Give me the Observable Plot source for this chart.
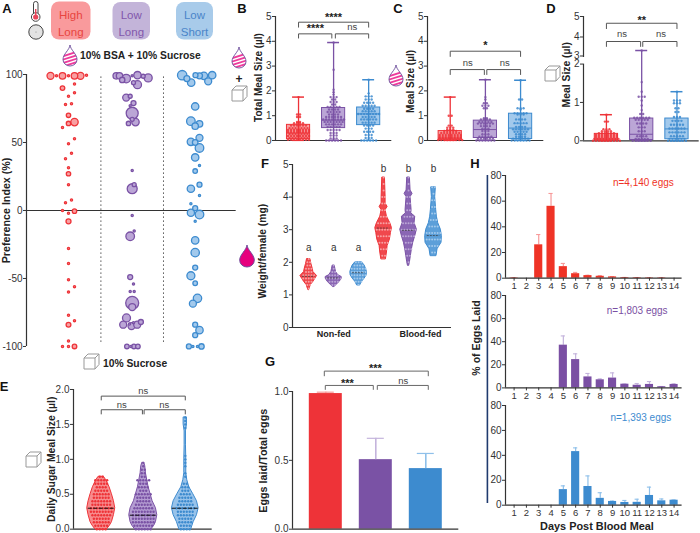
<!DOCTYPE html>
<html><head><meta charset="utf-8">
<script src="https://cdn.jsdelivr.net/npm/d3@7"></script>
<script src="https://cdn.jsdelivr.net/npm/@observablehq/plot@0.6"></script>
<style>
html,body{margin:0;padding:0;background:#fff}
#root{position:relative;width:700px;height:533px;overflow:hidden;font-family:"Liberation Sans",Arial,sans-serif}
#root svg{position:absolute;overflow:visible;background:transparent}
</style></head><body><div id="root"></div>
<script>
// ---------- palette per group ----------
const colors=["#ee3338","#7a52a5","#3d8bcf"];
const lights=["#f8a0a2","#bba6d6","#a2c9ec"];
const errs=["#f79a9a","#c4b4dc","#8fc0ea"];
const ink="#333";

// ---------- A: preference index, [offset, value, size] ----------
const prefHigh=[[-18,99,3.5],[-12,99,1.1],[-6,99,3.3],[0,99,1.1],[6,99,3.3],[12,99,3.5],[18,99.5,1.1],[-6,90,2.3],[6,93,1.1],[6,86.5,1.1],[0,84,1.1],[-3,78,1.1],[3,78.5,1.1],[0,70,2.2],[6,65,3.7],[0,64,2.2],[-6,61,1.1],[6,52.7,1.1],[0,49,1.1],[3,42,1.1],[-3,38,1.1],[0,31.4,1.1],[0,27,2.2],[0,19,1.1],[3,7.7,1.1],[-3,5.6,1.1],[-6,0,1.1],[0,-2,1.1],[6,-.5,2.2],[0,-8,2.5],[0,-28,1.1],[0,-39,1.1],[0,-51,1.1],[6,-56,1.1],[0,-60,1.1],[0,-77,1.1],[6,-81,1.1],[0,-84,2.4],[0,-96,1.1],[-6,-100,1.1],[0,-100,1.1],[6,-100,2.3]];
const prefLow=[[-16,99,3.2],[-12.7,99,3.2],[-6,97,4.3],[-10,96,2.7],[0,99,1.1],[5.3,99.5,3.7],[11,98.7,2],[16,97.5,4],[1.3,94,2],[5.3,92.5,4],[-6,83,3.5],[-2,84,2],[1.3,79,2.5],[-2,77,1.1],[0,71.5,6],[0,67,2],[3.3,65,3.7],[-3.7,64,2.2],[0,29.4,1.1],[0,16,5],[2,19,2],[0,-3.7,1.1],[-2,-19,4.3],[2,-15,1.1],[-2,-49,2.5],[1.3,-54,1.1],[-2,-59.5,1.1],[2,-59.5,1.1],[0,-68,6.5],[0,-71,3.5],[-5.7,-79,4],[-9,-84,3.5],[-.7,-85,3.5],[5,-84,3.5],[8.7,-82,2.5],[1.3,-82.5,1.1],[-2.7,-83.5,1.1],[-5.3,-100,2.3],[-1.3,-100,1.1],[1.7,-100,2.3],[5.7,-100,2.3]];
const prefShort=[[-13,99.5,4.7],[-8.3,97,3],[-4,94,3.7],[.3,99.5,2.5],[4.3,99,3],[8.7,99,3.7],[13,95,3.5],[17,99.5,3.7],[0,76.5,3.7],[-4.3,65.7,4.3],[4.3,63.7,3.3],[0,62,3.2],[4.3,53.4,3.5],[-4.3,50.5,3.7],[0,50,2.8],[4.3,46,4.3],[0,39,3.7],[4.3,33,1.1],[0,29,2.3],[4.3,19,2.5],[-4.3,16,3.7],[4.3,11,1.1],[-4.3,5,1.1],[0,1.7,2.5],[-4.3,-1.7,3.6],[4.3,-3,4.3],[0,-8,1.1],[0,-22,3.7],[0,-31,4.2],[0,-42,2.5],[-4.3,-48,4],[0,-53.5,2.3],[2.3,-64.6,4.2],[-2.3,-68.5,3.5],[0,-84,2.5],[4.3,-88,3.7],[0,-91.7,2.5],[-6.3,-100,2.5],[-2.3,-100,1.1],[2.3,-100,1.1],[6.3,-100,2.7]];
const prefCentres=[42,105.7,168.7];

// ---------- B, C, D: box stats [min,q1,median,q3,max] and strips [value,count] ----------
const totalStats=[[0,.05,.3,.63,1.75],[0,.5,.82,1.31,3.95],[0,.62,1.07,1.33,2.45]];
const totalRows=[
 [[1.75,1],[1.05,2],[.95,2],[.75,2],[.7,4],[.6,6],[.5,7],[.42,8],[.34,8],[.26,7],[.18,8],[.1,7],[.03,8]],
 [[3.95,1],[2.85,1],[2.05,1],[1.95,1],[1.85,1],[1.75,3],[1.65,2],[1.55,3],[1.45,2],[1.35,5],[1.25,4],[1.15,5],[1.05,4],[.95,6],[.85,8],[.75,7],[.65,6],[.55,5],[.42,5],[.3,3],[.2,3],[.08,3],[0,6]],
 [[2.45,1],[1.9,1],[1.78,3],[1.65,3],[1.52,4],[1.4,5],[1.28,4],[1.18,5],[1.07,8],[.95,5],[.85,6],[.72,5],[.6,4],[.48,3],[.35,4],[.22,3],[.1,3],[0,6]]];
const bsaStats=[[0,.03,.1,.38,1.75],[0,.1,.44,.8,2.45],[0,.06,.5,1.08,2.43]];
const bsaRows=[
 [[1.75,1],[1,2],[.6,2],[.52,3],[.45,3],[.38,5],[.3,7],[.22,8],[.15,8],[.08,8],[.02,9]],
 [[2.45,1],[1.75,1],[1.65,1],[1.5,2],[1.4,3],[1.3,2],[.9,2],[.85,4],[.75,5],[.68,6],[.58,4],[.48,3],[.38,3],[.25,3],[.15,5],[.07,6],[0,7]],
 [[2.43,1],[1.65,2],[1.3,3],[1.25,1],[1.1,5],[1.05,3],[.85,4],[.7,5],[.55,4],[.45,6],[.35,5],[.25,4],[.15,4],[.07,6],[0,7]]];
const sucStats=[[0,.01,.05,.18,.68],[0,.02,.17,.58,3.34],[0,.04,.31,.58,1.28]];
const sucRows=[
 [[.68,1],[.5,2],[.3,3],[.25,4],[.2,6],[.15,8],[.1,8],[.05,9],[0,10]],
 [[3.34,1],[1.53,1],[1.28,1],[1.15,3],[1.05,1],[.92,1],[.8,1],[.7,2],[.6,6],[.55,5],[.45,4],[.35,3],[.25,3],[.12,4],[.05,5],[0,7]],
 [[1.28,1],[1.05,3],[.98,3],[.85,2],[.75,2],[.62,3],[.52,4],[.42,5],[.32,6],[.22,6],[.12,5],[.05,6],[0,7]]];
const brokenDomain=[0,2,3,5];
const brokenUnits=[0,76.7,83.3,124.3];

// ---------- E: sugar meal violins [value,width] and strips ----------
const sugarShape=[
 [[0,18],[.05,26],[.1,32],[.2,38],[.3,42],[.4,38],[.5,32],[.6,25],[.7,15],[.75,8]],
 [[0,25],[.05,33],[.1,38],[.2,42],[.3,38],[.4,28],[.5,22],[.6,16],[.7,12],[.8,8],[.9,6],[.95,3]],
 [[0,18],[.1,25],[.2,35],[.3,40],[.4,35],[.5,24],[.6,12],[.7,6],[.8,3],[.9,3],[1,3],[1.2,2],[1.4,2],[1.5,5],[1.6,5]]];
const sugarRows=[
 [[.75,2],[.7,5],[.65,5],[.6,4],[.55,5],[.5,6],[.45,6],[.4,7],[.35,7],[.3,8],[.25,8],[.2,7],[.15,6],[.1,6],[.05,5],[0,4]],
 [[.95,1],[.9,1],[.85,2],[.8,2],[.75,2],[.7,5],[.65,3],[.6,4],[.55,3],[.5,6],[.45,5],[.4,5],[.35,6],[.3,7],[.25,8],[.2,8],[.15,8],[.1,8],[.05,7],[0,6]],
 [[1.6,1],[1.55,1],[1.5,1],[1.45,1],[1.05,1],[1,1],[.95,1],[.9,1],[.8,1],[.75,1],[.65,2],[.6,3],[.55,3],[.5,4],[.45,5],[.4,5],[.35,6],[.3,7],[.25,6],[.2,6],[.15,5],[.1,5],[.05,4],[0,4]]];
const sugarMedians=[.3,.2,.3];

// ---------- F: weight violins ----------
const weightShape=[
 [[1.15,1],[1.2,3],[1.3,6],[1.4,14],[1.5,20],[1.58,25],[1.7,14],[1.8,12],[1.95,8],[2.1,5]],
 [[1.25,3],[1.3,8],[1.4,18],[1.5,24],[1.55,24],[1.6,14],[1.7,7],[1.8,5],[1.9,3]],
 [[1.3,5],[1.4,10],[1.5,18],[1.6,24],[1.7,25],[1.8,22],[1.9,18],[2,10]],
 [[2.1,7],[2.3,10],[2.5,12],[2.7,19],[2.9,22],[3.05,25],[3.2,20],[3.4,10],[3.6,6],[3.7,12],[3.8,6],[4,6],[4.6,4]],
 [[1.9,2],[2,4],[2.2,7],[2.4,10],[2.6,14],[2.8,20],[3,25],[3.2,18],[3.4,20],[3.5,8],[3.6,9],[4,6],[4.1,12],[4.2,6],[4.6,4]],
 [[2.2,9],[2.4,12],[2.5,18],[2.6,24],[2.8,25],[3,22],[3.2,14],[3.4,10],[3.6,8],[4,5],[4.3,7]]];
const weightRows=[
 [[2.1,1],[2,2],[1.9,2],[1.8,3],[1.7,3],[1.6,5],[1.5,5],[1.4,3],[1.3,2],[1.2,1]],
 [[1.9,1],[1.8,1],[1.7,2],[1.6,4],[1.5,6],[1.4,4],[1.3,2]],
 [[2,3],[1.9,4],[1.8,6],[1.7,6],[1.6,6],[1.5,4],[1.4,3],[1.3,1]],
 [[4.6,1],[4.4,1],[4.2,1],[4,2],[3.8,2],[3.6,2],[3.4,3],[3.2,5],[3,6],[2.8,5],[2.6,4],[2.4,3],[2.2,2]],
 [[4.6,1],[4.4,1],[4.2,1],[4,2],[3.8,2],[3.6,2],[3.4,4],[3.2,5],[3,6],[2.8,5],[2.6,3],[2.4,3],[2.2,2],[2,1]],
 [[4.3,2],[4.1,1],[3.9,2],[3.7,2],[3.5,2],[3.3,3],[3.1,4],[2.9,6],[2.7,6],[2.5,4],[2.3,2]]];
const weightMedians=[1.57,1.52,1.68,3.05,2.98,2.82];

// ---------- G ----------
const layMeans=[.985,.505,.44];
const layTops=[.995,.66,.55];

// ---------- H ----------
const days=[1,2,3,4,5,6,7,8,9,10,11,12,13,14];
const eggsHigh=[.3,0,26,56,9,3.5,2,1.5,1,.5,.4,.3,.3,0];
const eggsHighTop=[.4,0,34,66,11.5,4.5,2.3,2,1.3,.6,.5,.4,.4,0];
const eggsLow=[0,0,0,0,37,24.5,9.5,7,8.5,3.2,2.3,3,1,3];
const eggsLowTop=[0,0,0,0,45,29.5,12.5,7.8,13,3.4,3.8,5.5,1.2,3.5];
const eggsShort=[0,0,0,0,12.5,43,15,5.5,3,2.2,2.3,7.8,3.5,4];
const eggsShortTop=[0,0,0,0,15.5,46,23.5,10,3.3,3.8,4.8,14.5,5,4.2];

// ---------- helpers ----------
const root=document.getElementById("root");
const ML=46,MR=10,MT=46,MB=26;
function panel(f,marks){
  const w=f.x[1]-f.x[0]+ML+MR,h=f.y[1]-f.y[0]+MT+MB;
  const p=Plot.plot({width:w,height:h,marginLeft:ML,marginRight:MR,marginTop:MT,marginBottom:MB,
    x:{domain:f.xd,axis:null},y:{domain:f.yd,axis:null},r:{type:"identity"},marks,
    style:{fontFamily:'"Liberation Sans",Arial,sans-serif',fontSize:"10px",background:"transparent",color:ink}});
  p.style.left=(f.x[0]-ML)+"px";p.style.top=(f.y[0]-MT)+"px";
  root.appendChild(p);
}
const yTicks=(ticks,fmt)=>Plot.axisY({ticks,tickSize:3,tickPadding:1,label:null,fontSize:10,stroke:ink,fill:ink,tickFormat:fmt||(d=>String(d))});
const frameLines=(f)=>[Plot.ruleX([f.xd[0]],{y1:f.yd[0],y2:f.yd[f.yd.length-1],stroke:ink,strokeWidth:1.2}),
  Plot.ruleY([f.yd[0]],{x1:f.xd[0],x2:f.xd[1],stroke:ink,strokeWidth:1.2})];
const yTitle=(f,t,px,val,size=10.4)=>Plot.text([t],{frameAnchor:"left",y:()=>val,dx:px-f.x[0],rotate:-90,textAnchor:"middle",fontWeight:"bold",fontSize:size,fill:"#222"});
function bracketMarks(list,color="#555"){
  const pts=[];list.forEach(([a,b,top,bot],k)=>{pts.push({k,x:a,y:bot},{k,x:a,y:top},{k,x:b,y:top},{k,x:b,y:bot})});
  return Plot.line(pts,{x:"x",y:"y",z:"k",stroke:color,strokeWidth:1,curve:"linear"});
}
const notes=(list)=>[
  Plot.text(list.filter(d=>d[2]!=="ns"),{x:d=>d[0],y:d=>d[1],text:d=>d[2],fontWeight:"bold",fontSize:11,fill:"#222"}),
  Plot.text(list.filter(d=>d[2]==="ns"),{x:d=>d[0],y:d=>d[1],text:d=>d[2],fontSize:9.5,fill:"#444"})];
const swarm=(rows,i,step)=>rows.flatMap(([v,n])=>d3.range(n).map(k=>({x:i+(k-(n-1)/2)*step,y:v,i})));
function boxMarks(stats,rows,step){
  const s=stats.map((d,i)=>({i,min:d[0],q1:d[1],med:d[2],q3:d[3],max:d[4]}));
  const hw=.33,cap=.17,col=d=>colors[d.i];
  return [
    Plot.rect(s,{x1:d=>d.i-hw,x2:d=>d.i+hw,y1:"q1",y2:"q3",fill:d=>lights[d.i],stroke:col,strokeWidth:1}),
    Plot.ruleX(s,{x:"i",y1:"min",y2:"max",stroke:col,strokeWidth:1.3}),
    Plot.ruleY(s,{y:"max",x1:d=>d.i-cap,x2:d=>d.i+cap,stroke:col,strokeWidth:1.5}),
    Plot.ruleY(s,{y:"min",x1:d=>d.i-cap,x2:d=>d.i+cap,stroke:col,strokeWidth:1.2}),
    Plot.ruleY(s,{y:"med",x1:d=>d.i-hw,x2:d=>d.i+hw,stroke:col,strokeWidth:1}),
    Plot.dot(rows.flatMap((r,i)=>swarm(r,i,step)),{x:"x",y:"y",r:1.2,fill:d=>colors[d.i],stroke:"none",fillOpacity:.85})
  ];
}
function violinMarks(shape,rows,scale,step,fills,dotFill,r){
  return [
    ...shape.map((sh,i)=>Plot.areaX(sh,{y:d=>d[0],x1:d=>i-d[1]*scale,x2:d=>i+d[1]*scale,fill:fills[i],stroke:colors[i%3],strokeWidth:1,curve:"linear"})),
    Plot.dot(rows.flatMap((row,i)=>swarm(row,i,step)),{x:"x",y:"y",r,fill:dotFill,stroke:"none"})
  ];
}

// ---------- panel A ----------
{
  const f={x:[26.3,236],y:[74,346],xd:[0,209.7],yd:[-100,100]};
  const g=[prefHigh,prefLow,prefShort].flatMap((a,i)=>a.map(d=>({x:prefCentres[i]+d[0],y:d[1],r:d[2],i})));
  g.sort((a,b)=>b.r-a.r);
  panel(f,[
    Plot.ruleX([74.4,137],{y1:-97,y2:100,stroke:"#555",strokeWidth:1,strokeDasharray:"1.5 2.5"}),
    Plot.ruleY([0],{x1:0,x2:209.7,stroke:ink,strokeWidth:1.2}),
    Plot.ruleX([0],{y1:-100,y2:100,stroke:ink,strokeWidth:1.2}),
    Plot.axisY({ticks:[100,50,0,-50,-100],tickSize:3,tickPadding:1,label:null,fontSize:10,stroke:ink,fill:ink,tickFormat:d=>String(d)}),
    Plot.dot(g,{x:"x",y:"y",r:"r",fill:d=>lights[d.i],stroke:d=>colors[d.i],strokeWidth:1.3}),
    yTitle(f,"Preference Index (%)",6,0,10.7)
  ]);
}
// ---------- panel B ----------
{
  const f={x:[274.7,391],y:[16,140],xd:[-.657,2.66],yd:[0,5]};
  panel(f,[...frameLines(f),yTicks([0,1,2,3,4,5]),...boxMarks(totalStats,totalRows,.085),
    bracketMarks([[0,2,4.77,4.57],[0,.95,4.3,4.13],[1.05,2,4.3,4.13]]),
    ...notes([[1,4.97,"****"],[.48,4.53,"****"],[1.53,4.57,"ns"]]),
    yTitle(f,"Total Meal Size (µl)",258,2.54,10)]);
}
// ---------- panel C ----------
{
  const f={x:[426.7,543],y:[16,140],xd:[-.646,2.66],yd:[0,5]};
  panel(f,[...frameLines(f),yTicks([0,1,2,3,4,5]),...boxMarks(bsaStats,bsaRows,.085),
    bracketMarks([[0,2,3.6,3.39],[0,.97,2.86,2.66],[1.04,2,2.86,2.66]]),
    ...notes([[1,3.82,"*"],[.5,3.13,"ns"],[1.55,3.13,"ns"]]),
    yTitle(f,"Meal Size (µl)",410,2.38,10)]);
}
// ---------- panel D (broken axis: values pass through a piecewise map first) ----------
{
  const brk=d3.scaleLinear().domain(brokenDomain).range(brokenUnits);
  const f={x:[583.3,699],y:[15.7,140],xd:[-.65,2.63],yd:[0,brk(5)]};
  panel(f,[
    Plot.ruleX([f.xd[0]],{y1:brk(0),y2:brk(2),stroke:ink,strokeWidth:1.2}),
    Plot.ruleX([f.xd[0]],{y1:brk(3),y2:brk(5),stroke:ink,strokeWidth:1.2}),
    Plot.ruleY([0],{x1:f.xd[0],x2:f.xd[1],stroke:ink,strokeWidth:1.2}),
    Plot.axisY({ticks:[0,1,2,4,5].map(brk),tickSize:3,tickPadding:1,label:null,fontSize:10,stroke:ink,fill:ink,tickFormat:u=>String(Math.round(brk.invert(u)))}),
    Plot.axisY({ticks:[brk(3)],tickSize:3,tickPadding:1,label:null,fontSize:10,stroke:ink,fill:ink,dy:-1.5,tickFormat:()=>"3"}),
    ...boxMarks(sucStats.map(r=>r.map(brk)),sucRows.map(rs=>rs.map(([v,n])=>[brk(v),n])),.085),
    bracketMarks([[0,2,brk(4.67),brk(4.41)],[0,.97,brk(3.78),brk(3.54)],[1.03,2,brk(3.78),brk(3.54)]]),
    ...notes([[1,brk(4.83),"**"],[.44,brk(4.14),"ns"],[1.55,brk(4.14),"ns"]]),
    yTitle(f,"Meal Size (µl)",566,66,10.4)]);
}
// ---------- panel E ----------
{
  const f={x:[73.3,212],y:[389.3,529],xd:[-.66,2.64],yd:[0,2]};
  const eFills=["#f78c8e","#b49dd2","#98c3ea"];
  panel(f,[...frameLines(f),yTicks([0,.5,1,1.5,2],d3.format(".1f")),
    ...violinMarks(sugarShape,sugarRows,1/126,.07,eFills,(d)=>colors[d.i],1.2),
    Plot.ruleY(sugarMedians.map((y,i)=>({y,i})),{y:"y",x1:d=>d.i-.31,x2:d=>d.i+.31,stroke:"#111",strokeWidth:1,strokeDasharray:"4 1.5"}),
    bracketMarks([[0,2,1.905,1.85],[0,.98,1.71,1.65],[1.02,2,1.71,1.65]]),
    ...notes([[1,1.98,"ns"],[.49,1.78,"ns"],[1.5,1.78,"ns"]]),
    yTitle(f,"Daily Sugar Meal Size (µl)",51.7,1,10.4)]);
}
// ---------- panel F ----------
{
  const f={x:[291.7,450.7],y:[164.3,327.3],xd:[-.65,5.72],yd:[0,5]};
  const vcolors=["#f0484d","#8a66b4","#5c9fd9","#f0484d","#8a66b4","#5c9fd9"];
  panel(f,[...frameLines(f),yTicks([0,1,2,3,4,5]),
    ...violinMarks(weightShape,weightRows,1/75,.11,vcolors,d=>lights[d.i%3],1),
    Plot.ruleY(weightMedians.map((y,i)=>({y,i})),{y:"y",x1:d=>d.i-.25,x2:d=>d.i+.25,stroke:"#333",strokeWidth:.7,strokeDasharray:"2 1"}),
    Plot.text([0,1,2,3,4,5],{x:d=>d,y:d=>d<3?2.44:4.86,text:d=>d<3?"a":"b",fontSize:10,fill:"#333"}),
    Plot.text([[1,"Non-fed"],[4.48,"Blood-fed"]],{x:d=>d[0],y:()=>0,dy:7,text:d=>d[1],fontWeight:"bold",fontSize:9,fill:"#222"}),
    yTitle(f,"Weight/female (mg)",261.7,2.34,10.3)]);
}
// ---------- panel G ----------
{
  const f={x:[291.7,458],y:[391.3,529],xd:[-.666,2.66],yd:[0,1]};
  const s=layMeans.map((m,i)=>({i,m,t:layTops[i]}));
  panel(f,[
    Plot.rect(s,{x1:d=>d.i-.33,x2:d=>d.i+.33,y1:0,y2:"m",fill:d=>colors[d.i]}),
    Plot.ruleX(s,{x:"i",y1:"m",y2:"t",stroke:d=>errs[d.i],strokeWidth:1.6}),
    Plot.ruleY(s,{y:"t",x1:d=>d.i-.17,x2:d=>d.i+.17,stroke:d=>errs[d.i],strokeWidth:1.2}),
    ...frameLines(f),yTicks([0,.5,1],d3.format(".1f")),
    bracketMarks([[-.03,2.05,1.148,1.114],[-.01,.95,1.044,1.015],[1.03,2.05,1.044,1.015]],"#666"),
    ...notes([[.99,1.17,"***"],[.43,1.06,"***"],[1.55,1.08,"ns"]]),
    yTitle(f,"Eggs laid/Total eggs",262.7,.497,10.8)]);
}
// ---------- panel H ----------
function eggPanel(y,vals,tops,col,err,note,notePos){
  const f={x:[504.7,681.3],y,xd:[.3,14.65],yd:[0,80]};
  const s=days.map((d,i)=>({d,v:vals[i],t:tops[i]})).filter(d=>d.t>0);
  panel(f,[
    Plot.ruleX(s,{x:"d",y1:"v",y2:"t",stroke:err,strokeWidth:1.2}),
    Plot.ruleY(s,{y:"t",x1:d=>d.d-.17,x2:d=>d.d+.17,stroke:err,strokeWidth:1.1}),
    Plot.rect(s,{x1:d=>d.d-.33,x2:d=>d.d+.33,y1:0,y2:"v",fill:col}),
    ...frameLines(f),yTicks([0,20,40,60,80]),
    Plot.axisX({ticks:days,tickSize:3,tickPadding:1.5,label:null,fontSize:9.5,stroke:ink,fill:ink,tickFormat:d=>String(d),anchor:"bottom"}),
    Plot.text([note],{x:()=>notePos[0],y:()=>notePos[1],fontSize:10,fill:col})]);
}
eggPanel([175.3,278],eggsHigh,eggsHighTop,"#ef3326",errs[0],"n=4,140 eggs",[11.5,74.5]);
eggPanel([295.3,387.7],eggsLow,eggsLowTop,"#7a4fa3",errs[1],"n=1,803 eggs",[11,67]);
eggPanel([405,504.7],eggsShort,eggsShortTop,"#3d8bcf",errs[2],"n=1,393 eggs",[11.3,70]);

// ---------- icons, cards and titles ----------
const drop=(cx,top,h,body,stripe)=>{
  const s=h/21,id="c"+Math.round(cx)+"_"+Math.round(top);
  const d="M7 0C7.5 5 14 9 14 14.5A7 6.5 0 0 1 0 14.5C0 9 6.5 5 7 0Z";
  let st="";
  if(stripe){for(let k=0;k<5;k++){const yy=9+k*3.4;st+=`<line x1="-1" y1="${yy+2.5}" x2="15" y2="${yy-2.5}" stroke="${stripe}" stroke-width="1.8"/>`}}
  return `<g transform="translate(${cx-7*s},${top}) scale(${s})"><clipPath id="${id}"><path d="${d}"/></clipPath><path d="${d}" fill="${body}"/><g clip-path="url(#${id})">${st}</g><path d="${d}" fill="none" stroke="#6a4a9a" stroke-width=".9"/></g>`;
};
const cube=(x,y,s)=>`<g transform="translate(${x},${y}) scale(${s})" fill="#fff" stroke="#999" stroke-width="1"><path d="M0 4L4 0H15V10.5L11 15H0Z"/><path d="M0 4H11V15M11 4L15 0" fill="none"/></g>`;
const card=(x,y,w,h,bg,fg,a,b)=>`<rect x="${x}" y="${y}" width="${w}" height="${h}" rx="8" fill="${bg}"/><text x="${x+w/2}" y="${y+17}" text-anchor="middle" font-size="11.5" fill="${fg}">${a}</text><text x="${x+w/2}" y="${y+34}" text-anchor="middle" font-size="11.5" fill="${fg}">${b}</text>`;
const letter=(t,x,y)=>`<text x="${x}" y="${y}" font-size="13" font-weight="bold" fill="#111" text-anchor="middle">${t}</text>`;
const overlay=document.createElementNS("http://www.w3.org/2000/svg","svg");
overlay.setAttribute("width",700);overlay.setAttribute("height",533);
overlay.style.left="0";overlay.style.top="0";
overlay.innerHTML=`
${card(51,1.5,39.5,38,"#f99a9c","#e8453f","High","Long")}
${card(112.5,2,37.5,37.5,"#c3b4d9","#8257ab","Low","Long")}
${card(176,2,37,37.5,"#a8cbea","#4a85c9","Low","Short")}
<g stroke="#444" fill="#fff"><rect x="33.5" y="1.5" width="4.5" height="15" rx="2.2"/><circle cx="35.7" cy="17" r="4.3"/></g>
<circle cx="35.7" cy="17" r="2.6" fill="#e8465a"/><rect x="35" y="9" width="1.4" height="7" fill="#e8465a"/>
<circle cx="36" cy="32" r="7.2" fill="#e2e2e2" stroke="#444"/><circle cx="36" cy="32" r=".5" fill="#777"/>
${drop(70,45,21,"#fff","#ee3a9b")}
<text x="80" y="59" font-size="10.3" font-weight="bold" fill="#222">10% BSA + 10% Sucrose</text>
${cube(84,354,1)}
<text x="103" y="367" font-size="10.3" font-weight="bold" fill="#222">10% Sucrose</text>
${drop(239,47,21,"#fff","#ee3a9b")}
<text x="239" y="83" font-size="12" font-weight="bold" text-anchor="middle" fill="#222">+</text>
${cube(232,86,1)}
${drop(396,65,21,"#fff","#ee3a9b")}
${cube(545,66,1)}
${cube(26,452,1)}
${drop(247,245,22,"#e6007e",null)}
<rect x="486.6" y="175" width="1.6" height="328" fill="#1f3a6e"/>
<text transform="translate(479.5,338) rotate(-90)" text-anchor="middle" font-size="10.5" font-weight="bold" fill="#222">% of Eggs Laid</text>
<text x="597" y="530" text-anchor="middle" font-size="10.9" font-weight="bold" fill="#222">Days Post Blood Meal</text>
${letter("A",7,13)}${letter("B",242,13)}${letter("C",398,13)}${letter("D",551,13)}
${letter("E",4,391)}${letter("F",265,168)}${letter("G",270,366)}${letter("H",475,168)}
`;
root.appendChild(overlay);
</script></body></html>
